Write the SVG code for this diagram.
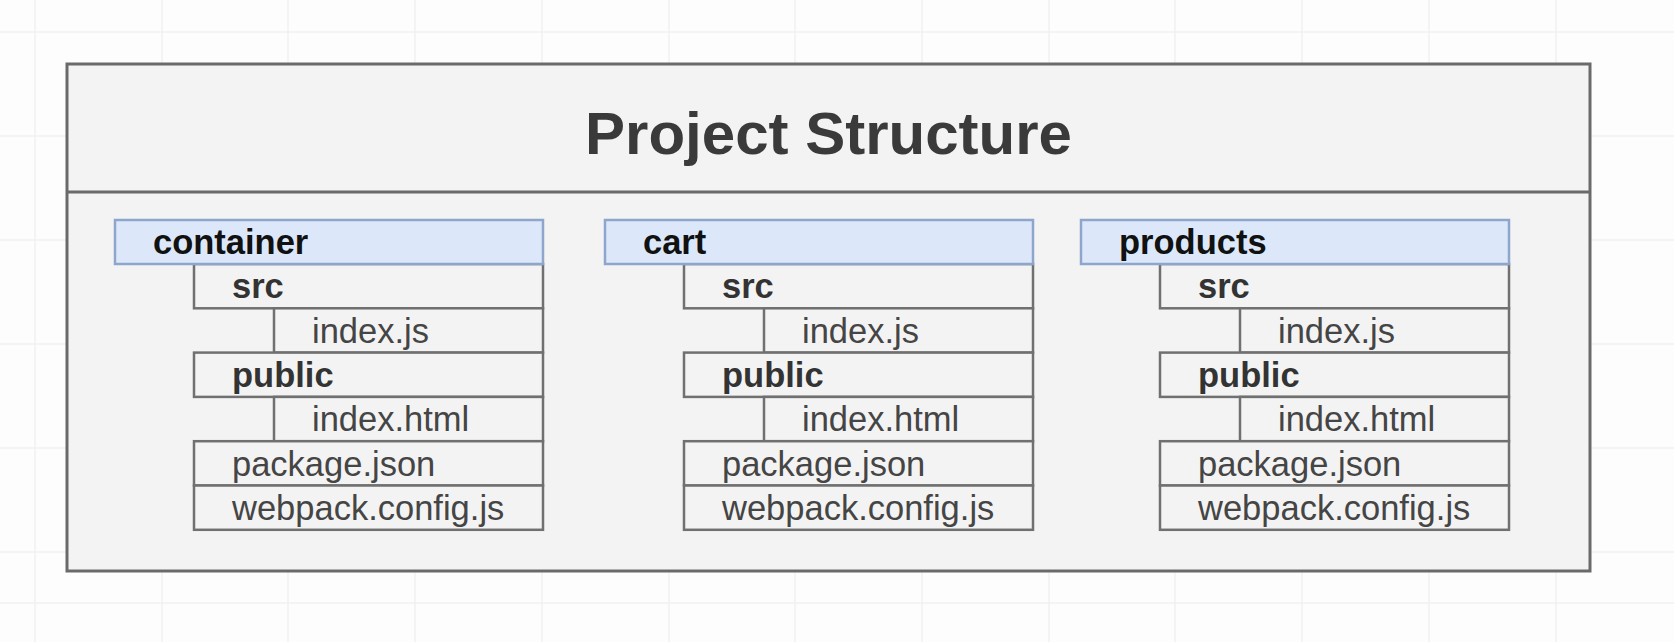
<svg xmlns="http://www.w3.org/2000/svg" width="1674" height="642" viewBox="0 0 1674 642">
<style>
.grid line{stroke:#f0f0f0;stroke-width:1.5}
.panel{fill:#f3f3f3;stroke:#6a6a6a;stroke-width:3}
.hdr{fill:#dce8f9;stroke:#8ea6cc;stroke-width:2.5}
.row{fill:#f3f3f3;stroke:#707070;stroke-width:2.5}
.t{font-family:"Liberation Sans",Arial,Helvetica,sans-serif;font-size:34.5px}
.h{font-weight:bold;fill:#111}
.b{font-weight:bold;fill:#333}
.r{fill:#454545}
.title{font-family:"Liberation Sans",Arial,Helvetica,sans-serif;font-size:60px;font-weight:bold;fill:#3a3a3a}
</style>
<rect x="0" y="0" width="1674" height="642" fill="#fdfdfd"/>
<g class="grid">
<line x1="35" y1="0" x2="35" y2="642"/><line x1="162" y1="0" x2="162" y2="642"/><line x1="288" y1="0" x2="288" y2="642"/><line x1="415" y1="0" x2="415" y2="642"/><line x1="542" y1="0" x2="542" y2="642"/><line x1="669" y1="0" x2="669" y2="642"/><line x1="795" y1="0" x2="795" y2="642"/><line x1="922" y1="0" x2="922" y2="642"/><line x1="1049" y1="0" x2="1049" y2="642"/><line x1="1175" y1="0" x2="1175" y2="642"/><line x1="1302" y1="0" x2="1302" y2="642"/><line x1="1429" y1="0" x2="1429" y2="642"/><line x1="1556" y1="0" x2="1556" y2="642"/>
<line x1="0" y1="32" x2="1674" y2="32"/><line x1="0" y1="136" x2="1674" y2="136"/><line x1="0" y1="240" x2="1674" y2="240"/><line x1="0" y1="344" x2="1674" y2="344"/><line x1="0" y1="448" x2="1674" y2="448"/><line x1="0" y1="552" x2="1674" y2="552"/><line x1="0" y1="603" x2="1674" y2="603"/>
</g>
<g id="panel">
<rect class="panel" x="67" y="64" width="1523" height="507"/>
<line x1="67" y1="192" x2="1590" y2="192" stroke="#6a6a6a" stroke-width="3"/>
<text class="title" x="828.5" y="154" text-anchor="middle">Project Structure</text>
</g>
<defs>
<g id="tree">
<rect class="row" x="79" y="44" width="349" height="44.3"/>
<rect class="row" x="159" y="88.3" width="269" height="44.3"/>
<rect class="row" x="79" y="132.6" width="349" height="44.3"/>
<rect class="row" x="159" y="176.9" width="269" height="44.3"/>
<rect class="row" x="79" y="221.2" width="349" height="44.3"/>
<rect class="row" x="79" y="265.5" width="349" height="44.3"/>
<text class="t b" x="117" y="78">src</text>
<text class="t r" x="197" y="122.5">index.js</text>
<text class="t b" x="117" y="167">public</text>
<text class="t r" x="197" y="211">index.html</text>
<text class="t r" x="117" y="255.5">package.json</text>
<text class="t r" x="117" y="300">webpack.config.js</text>
</g>
</defs>
<g id="container" transform="translate(115,220)">
<use href="#tree"/>
<rect class="hdr" x="0" y="0" width="428" height="44"/>
<text class="t h" x="38" y="34">container</text>
</g>
<g id="cart" transform="translate(605,220)">
<use href="#tree"/>
<rect class="hdr" x="0" y="0" width="428" height="44"/>
<text class="t h" x="38" y="34">cart</text>
</g>
<g id="products" transform="translate(1081,220)">
<use href="#tree"/>
<rect class="hdr" x="0" y="0" width="428" height="44"/>
<text class="t h" x="38" y="34">products</text>
</g>
</svg>
